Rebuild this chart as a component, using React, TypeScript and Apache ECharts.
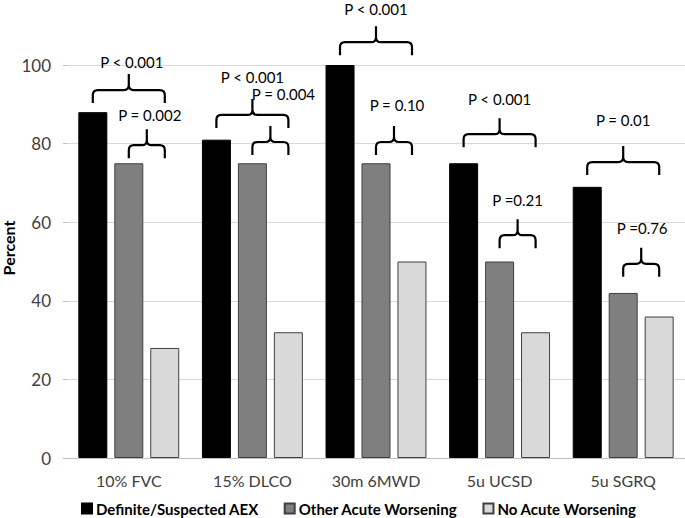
import React, { useEffect, useRef } from "react";
import * as echarts from "echarts";

const categories = ["10% FVC", "15% DLCO", "30m 6MWD", "5u UCSD", "5u SGRQ"];
const seriesNames = ["Definite/Suspected AEX", "Other Acute Worsening", "No Acute Worsening"];
const aexValues = [88, 81, 100, 75, 69];
const otherValues = [75, 75, 75, 50, 42];
const noneValues = [28, 32, 50, 32, 36];
const yTicks = [0, 20, 40, 60, 80, 100];

// significance annotations
const braceCategory = [0, 0, 1, 1, 2, 2, 3, 3, 4, 4];
const braceFrom = [0, 1, 0, 1, 0, 1, 0, 1, 0, 1];
const braceTo = [2, 2, 2, 2, 2, 2, 2, 2, 2, 2];
const braceBase = [90.3, 76.3, 84.0, 77.1, 102.5, 77.1, 79.1, 53.4, 72.0, 46.1];
const pLabels = ["P < 0.001", "P = 0.002", "P < 0.001", "P = 0.004", "P < 0.001", "P = 0.10", "P < 0.001", "P =0.21", "P = 0.01", "P =0.76"];
const labelLevel = [100.8, 87.3, 96.9, 92.6, 114.2, 89.8, 91.3, 65.6, 86.0, 58.5];
const labelShift = [3, 3, 0, 13, 0, 3, 0, 0, 0, 1];

const FONT = "Lato, 'Open Sans', sans-serif";
const BAR_W = 29;
const BAR_GAP = 7;

export default function App() {
  const ref = useRef<HTMLDivElement>(null);
  useEffect(() => {
    if (!ref.current) return;
    const chart = echarts.init(ref.current, null, { renderer: "svg" });
    const barOffset = (i: number) => (i - 1) * (BAR_W + BAR_GAP);
    const colors = ["#000000", "#7f7f7f", "#d9d9d9"];
    const borders = ["#000000", "#404040", "#404040"];
    const values = [aexValues, otherValues, noneValues];
    const option: any = {
      animation: false,
      textStyle: { fontFamily: FONT },
      grid: { left: 67, right: 0, top: 65, bottom: 60 },
      legend: {
        data: seriesNames,
        left: 81,
        top: 501,
        padding: 0,
        itemWidth: 10,
        itemHeight: 10,
        itemGap: 25,
        icon: "rect",
        textStyle: { fontFamily: FONT, fontWeight: "bold", fontSize: 15, color: "#000", padding: [0, 0, 0, -1] },
      },
      xAxis: {
        type: "category",
        data: categories,
        axisLine: { lineStyle: { color: "#bfbfbf", width: 1 } },
        axisTick: { show: false },
        axisLabel: { fontSize: 16, color: "#404040", margin: 14, fontFamily: FONT },
      },
      yAxis: {
        type: "value",
        min: yTicks[0],
        max: yTicks[yTicks.length - 1],
        interval: 20,
        axisLine: { show: false },
        axisTick: { show: true, length: 4, lineStyle: { color: "#bfbfbf" } },
        axisLabel: { fontSize: 17, color: "#404040", margin: 16, fontFamily: FONT },
        splitLine: { lineStyle: { color: "#d9d9d9", width: 1 } },
      },
      graphic: [
        {
          type: "text",
          x: 8,
          y: 248,
          rotation: Math.PI / 2,
          style: {
            text: "Percent",
            align: "center",
            verticalAlign: "middle",
            font: `bold 16px ${FONT}`,
            fill: "#000",
          },
        },
      ],
      series: [
        ...values.map((v, i) => ({
          name: seriesNames[i],
          type: "bar",
          data: v,
          barWidth: BAR_W,
          barGap: `${Math.round((BAR_GAP / BAR_W) * 100)}%`,
          itemStyle: { color: colors[i], borderColor: borders[i], borderWidth: 1 },
        })),
        {
          type: "custom",
          name: "annotations",
          clip: false,
          z: 10,
          data: braceCategory.map((c, i) => [c, braceBase[i], i]),
          encode: { x: 0, y: 1 },
          renderItem: (params: any, api: any) => {
            const i = params.dataIndex;
            const cat = braceCategory[i];
            const base = api.coord([cat, braceBase[i]]);
            const cx = base[0];
            const x1 = cx + barOffset(braceFrom[i]);
            const x2 = cx + barOffset(braceTo[i]);
            const xm = (x1 + x2) / 2;
            const yb = base[1];
            const yh = yb - 13;
            const yp = yh - 16;
            const r = 5;
            const d =
              `M${x1} ${yb} L${x1} ${yh + r} Q${x1} ${yh} ${x1 + r} ${yh} L${xm - r} ${yh} Q${xm} ${yh} ${xm} ${yh - r} L${xm} ${yp} ` +
              `M${xm} ${yh - r} Q${xm} ${yh} ${xm + r} ${yh} L${x2 - r} ${yh} Q${x2} ${yh} ${x2} ${yh + r} L${x2} ${yb}`;
            const ty = api.coord([cat, labelLevel[i]])[1];
            return {
              type: "group",
              children: [
                {
                  type: "path",
                  shape: { pathData: d },
                  style: { fill: "none", stroke: "#000", lineWidth: 2.2 },
                },
                {
                  type: "text",
                  style: {
                    text: pLabels[i],
                    x: xm + labelShift[i],
                    y: ty,
                    align: "center",
                    verticalAlign: "middle",
                    font: `15px ${FONT}`,
                    fill: "#000",
                  },
                },
              ],
            };
          },
        },
      ],
    };
    chart.setOption(option);
    return () => chart.dispose();
  }, []);
  return <div ref={ref} style={{ width: 685, height: 518, position: "absolute", left: 0, top: 0 }} />;
}
